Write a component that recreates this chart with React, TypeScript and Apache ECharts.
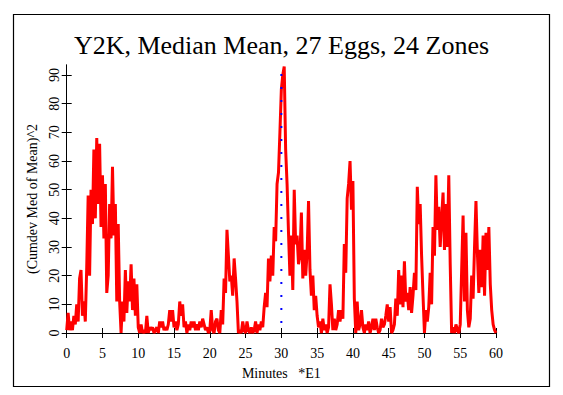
import React, { useEffect, useRef } from "react";
import * as echarts from "echarts";

// Sampling step of the trace, in axis units (minutes *E1)
const STEP = 0.2;

// (Cumdev Med of Mean)^2 values, in 5-unit segments
const seg00 = [1, 7, 1, 4, 1, 6, 3, 10, 4, 19, 22, 6, 11, 4, 23, 48, 20, 50, 38, 64, 40, 68, 45, 66, 37];
const seg05 = [55, 33, 52, 14, 20, 45, 33, 58, 34, 45, 11, 38, 11, 0, 11, 4, 22, 7, 18, 11, 24, 8, 19, 6, 17];
const seg10 = [2, 0, 3, 0, 1, 0, 6, 0, 2, 1, 2, 0, 1, 2, 0, 4, 2, 4, 1, 2, 1, 3, 8, 4, 8];
const seg15 = [2, 4, 1, 3, 11, 6, 10, 2, 4, 0, 3, 1, 4, 2, 4, 1, 3, 1, 4, 2, 5, 3, 1, 2, 0];
const seg20 = [1, 8, 1, 0, 4, 5, 1, 0, 8, 3, 19, 14, 36, 27, 18, 20, 13, 26, 19, 11, 0, 1, 0, 4, 1];
const seg25 = [0, 4, 1, 0, 2, 0, 1, 4, 0, 3, 1, 4, 2, 9, 14, 9, 26, 18, 27, 20, 37, 32, 52, 56, 70];
const seg30 = [85, 90, 93, 64, 52, 35, 20, 34, 15, 50, 31, 34, 24, 27, 42, 19, 29, 20, 28, 46, 22, 13, 20, 8, 13];
const seg35 = [6, 2, 4, 0, 5, 1, 3, 0, 2, 17, 10, 1, 5, 1, 3, 8, 4, 8, 5, 31, 21, 47, 52, 60, 43];
const seg40 = [53, 12, 0, 11, 1, 3, 8, 2, 0, 3, 1, 4, 0, 2, 5, 1, 5, 2, 0, 1, 5, 2, 3, 6, 10];
const seg45 = [4, 9, 0, 1, 3, 12, 6, 22, 10, 20, 9, 25, 11, 14, 8, 16, 7, 13, 21, 15, 51, 38, 45, 27, 13];
const seg50 = [0, 8, 4, 9, 21, 10, 37, 27, 55, 36, 44, 30, 40, 49, 29, 45, 30, 55, 24, 0, 2, 0, 3, 1, 0];
const seg55 = [3, 22, 41, 11, 35, 8, 2, 5, 20, 12, 30, 46, 28, 14, 29, 16, 34, 13, 35, 22, 37, 17, 8, 3, 1, 0];

const medianMeanSq = [
  ...seg00, ...seg05, ...seg10, ...seg15, ...seg20, ...seg25,
  ...seg30, ...seg35, ...seg40, ...seg45, ...seg50, ...seg55,
];

const xTicks = [0, 5, 10, 15, 20, 25, 30, 35, 40, 45, 50, 55, 60];
const yTicks = [0, 10, 20, 30, 40, 50, 60, 70, 80, 90];
const yTop = 93.5;
const eventX = 30;

const TITLE = "Y2K, Median Mean, 27 Eggs, 24 Zones";
const X_NAME = "Minutes   *E1";
const Y_NAME = "(Cumdev Med of Mean)^2";

export default function App() {
  const ref = useRef<HTMLDivElement>(null);

  useEffect(() => {
    if (!ref.current) return;
    const chart = echarts.init(ref.current, null, { renderer: "svg" });
    const points = medianMeanSq.map((v, i) => [Math.round(i * STEP * 10) / 10, v]);
    const font = "'Liberation Serif', 'Times New Roman', serif";
    const tickStyle = { color: "#000", width: 1 };

    chart.setOption({
      animation: false,
      backgroundColor: "#ffffff",
      title: {
        text: TITLE,
        left: "center",
        top: 27,
        textStyle: { fontFamily: font, fontSize: 26, fontWeight: "normal", color: "#000" },
      },
      grid: { left: 66.7, right: 67, top: 65, bottom: 62 },
      xAxis: [
        {
          type: "value",
          min: 0,
          max: 60,
          interval: 5,
          position: "bottom",
          axisLine: { lineStyle: { color: "#808080", width: 1 } },
          axisTick: { length: 5, lineStyle: tickStyle, customValues: xTicks },
          axisLabel: { margin: 13, fontFamily: font, fontSize: 14, color: "#000", customValues: xTicks },
          splitLine: { show: false },
          name: X_NAME,
          nameLocation: "middle",
          nameGap: 33,
          nameTextStyle: { fontFamily: font, fontSize: 14, color: "#000" },
        },
        {
          type: "value",
          min: 0,
          max: 60,
          interval: 5,
          position: "top",
          axisLine: { lineStyle: { color: "#000", width: 1 } },
          axisTick: { length: 5, lineStyle: tickStyle, customValues: xTicks },
          axisLabel: { show: false },
          splitLine: { show: false },
        },
      ],
      yAxis: [
        {
          type: "value",
          min: 0,
          max: yTop,
          interval: 10,
          position: "left",
          axisLine: { show: true, lineStyle: { color: "#000", width: 1 } },
          axisTick: { show: true, length: 5, lineStyle: tickStyle, customValues: yTicks },
          axisLabel: { rotate: 90, margin: 5, fontFamily: font, fontSize: 14, color: "#000", customValues: yTicks },
          splitLine: { show: false },
          name: Y_NAME,
          nameLocation: "middle",
          nameGap: 26,
          nameRotate: 90,
          nameTextStyle: { fontFamily: font, fontSize: 14, color: "#000" },
        },
        {
          type: "value",
          min: 0,
          max: yTop,
          interval: 10,
          position: "right",
          axisLine: { show: true, lineStyle: { color: "#000", width: 1 } },
          axisTick: { show: true, length: 5, lineStyle: tickStyle, customValues: yTicks },
          axisLabel: { show: false },
          splitLine: { show: false },
        },
      ],
      graphic: [
        {
          type: "rect",
          silent: true,
          shape: { x: 13.5, y: 14.5, width: 536, height: 372 },
          style: { fill: "none", stroke: "#000", lineWidth: 1.2 },
        },
      ],
      series: [
        {
          type: "line",
          data: points,
          showSymbol: false,
          lineStyle: { color: "#ff0000", width: 3 },
          itemStyle: { color: "#ff0000" },
          z: 2,
        },
        {
          type: "line",
          data: [[eventX, 0], [eventX, yTop]],
          showSymbol: false,
          lineStyle: { color: "#0000ff", width: 2, type: [2, 11], dashOffset: 3 },
          z: 3,
        },
      ],
    });
    return () => chart.dispose();
  }, []);

  return (
    <div
      ref={ref}
      style={{ position: "absolute", left: 0, top: 0, width: 563, height: 395 }}
    />
  );
}
